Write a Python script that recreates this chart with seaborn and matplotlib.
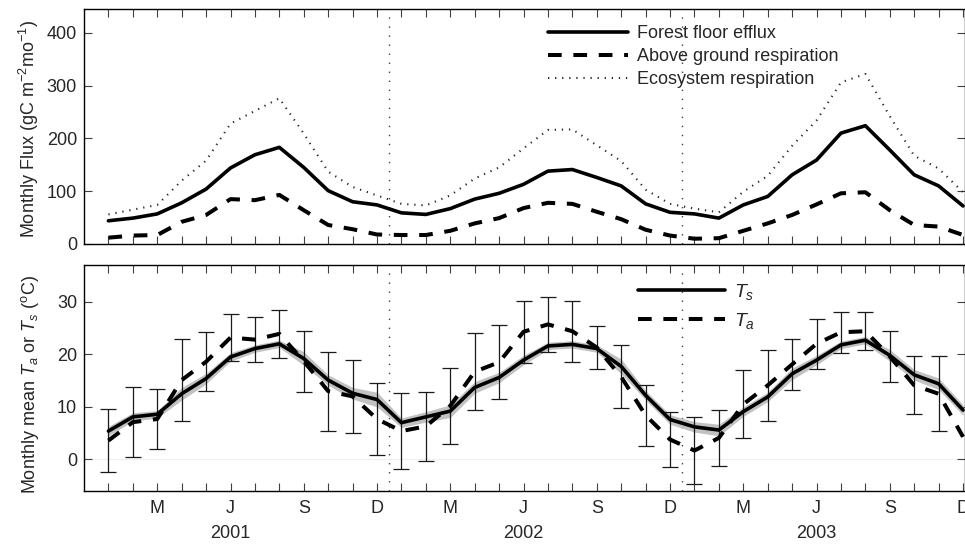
import numpy as np
import pandas as pd
import matplotlib
matplotlib.use("Agg")
import matplotlib.pyplot as plt
import seaborn as sns

# ---------------- data (monthly, Jan 2001 .. Dec 2003) ----------------
months = pd.period_range("2001-01", "2003-12", freq="M")

forest_floor = [44, 49, 57, 78, 104, 144, 169, 183, 145, 101, 80, 74,
                59, 56, 67, 85, 96, 113, 138, 141, 126, 110, 76, 60,
                57, 49, 74, 90, 131, 159, 210, 224, 178, 131, 110, 72]
above_ground = [12, 16, 17, 42, 55, 85, 83, 93, 64, 36, 28, 18,
                17, 17, 25, 39, 49, 68, 78, 76, 61, 47, 27, 16,
                10, 11, 25, 39, 55, 75, 96, 98, 64, 36, 33, 17]
ecosystem = [56, 65, 74, 120, 158, 228, 252, 276, 209, 137, 108, 92,
             76, 73, 92, 124, 145, 181, 216, 217, 187, 157, 103, 76,
             67, 60, 99, 129, 186, 234, 306, 322, 242, 167, 143, 98]

Ts = [5.4, 8.1, 8.6, 12.5, 15.4, 19.5, 21.1, 22.0, 19.2, 15.1, 12.6, 11.4,
      7.0, 8.1, 9.2, 13.7, 15.6, 18.9, 21.6, 21.9, 21.1, 17.7, 12.2, 7.6,
      6.2, 5.6, 9.1, 11.9, 16.3, 18.9, 21.8, 22.7, 19.8, 16.1, 14.4, 9.4]
Ts_band = [0.9, 0.8, 0.7, 1.2, 1.0, 0.8, 0.7, 0.7, 1.3, 1.0, 1.1, 1.4,
           0.9, 1.0, 1.2, 1.1, 1.0, 0.9, 0.7, 0.7, 0.7, 1.4, 0.9, 0.9,
           1.0, 1.1, 0.9, 0.9, 1.1, 0.9, 0.7, 0.7, 1.1, 1.0, 1.1, 1.0]
Ta = [3.6, 7.1, 7.7, 15.1, 18.6, 23.2, 22.8, 23.9, 18.7, 13.0, 12.0, 7.7,
      5.4, 6.3, 10.2, 16.7, 18.5, 24.3, 25.7, 24.4, 21.3, 15.7, 8.4, 3.8,
      1.7, 4.1, 10.5, 14.1, 18.1, 22.0, 24.2, 24.4, 19.6, 14.1, 12.5, 4.3]
Ta_sd = [6.0, 6.7, 5.8, 7.8, 5.6, 4.5, 4.3, 4.6, 5.8, 7.5, 7.0, 6.8,
         7.3, 6.6, 7.2, 7.3, 7.0, 5.9, 5.2, 5.8, 4.1, 6.0, 5.8, 5.2,
         6.4, 5.4, 6.5, 6.7, 4.9, 4.8, 3.9, 3.6, 4.8, 5.5, 7.1, np.nan]

years = ["2001", "2002", "2003"]
flux_labels = ["Forest floor efflux", "Above ground respiration", "Ecosystem respiration"]
temp_labels = [r"$\mathit{T_s}$", r"$\mathit{T_a}$"]

# ---------------- style ----------------
sns.set_style("ticks")
plt.rcParams["font.family"] = ["Liberation Sans", "DejaVu Sans"]
plt.rcParams["mathtext.fontset"] = "custom"
plt.rcParams["mathtext.rm"] = "Liberation Sans"
plt.rcParams["mathtext.it"] = "Liberation Sans:italic"
plt.rcParams["mathtext.default"] = "regular"
FS = 13
plt.rcParams["font.size"] = FS

idx = np.arange(len(months))
df = pd.DataFrame({
    "m": idx, "ff": forest_floor, "ag": above_ground, "eco": ecosystem,
    "Ts": Ts, "band": Ts_band, "Ta": Ta, "Ta_sd": Ta_sd,
})

fig = plt.figure(figsize=(9.65, 5.45), dpi=100)
W, H = 965.0, 545.0
axL, axR = 84.0, 965.5
ax1 = fig.add_axes([axL / W, (H - 244) / H, (axR - axL) / W, (244 - 9) / H])
ax2 = fig.add_axes([axL / W, (H - 491) / H, (axR - axL) / W, (491 - 265) / H])

SOLID_LW = 2.6
DASH_LW = 2.9
DASH = (0, (3.4, 2.9))
DOT = (0, (0.6, 2.8))

# ---------------- top panel ----------------
l1 = sns.lineplot(data=df, x="m", y="ff", ax=ax1, color="k", lw=SOLID_LW,
                  label=flux_labels[0], errorbar=None).lines[-1]
l2 = sns.lineplot(data=df, x="m", y="ag", ax=ax1, color="k", lw=DASH_LW,
                  linestyle=DASH, label=flux_labels[1], errorbar=None).lines[-1]
l3 = sns.lineplot(data=df, x="m", y="eco", ax=ax1, color="0.15", lw=1.5,
                  linestyle=DOT, label=flux_labels[2], errorbar=None).lines[-1]
ax1.set_ylim(0, 445)
ax1.set_yticks([0, 100, 200, 300, 400])
ax1.legend(handles=[l1, l2, l3], labels=flux_labels, loc="upper left",
           bbox_to_anchor=((548 - axL) / (axR - axL), (244 - 25) / 235.0),
           frameon=False, borderpad=0, borderaxespad=0, handlelength=4.45,
           handletextpad=0.5, labelspacing=0.33, fontsize=FS)

# ---------------- bottom panel ----------------
ax2.axhline(0, color="0.94", lw=0.8, zorder=0)
ax2.fill_between(df["m"], df["Ts"] - df["band"], df["Ts"] + df["band"],
                 color="0.76", lw=0, zorder=1)
ax2.errorbar(df["m"], df["Ta"], yerr=df["Ta_sd"], fmt="none", ecolor="0.1",
             elinewidth=0.9, capsize=5.8, capthick=0.9, zorder=2)
h1 = sns.lineplot(data=df, x="m", y="Ts", ax=ax2, color="k", lw=SOLID_LW,
                  label=temp_labels[0], errorbar=None, zorder=3).lines[-1]
h2 = sns.lineplot(data=df, x="m", y="Ta", ax=ax2, color="k", lw=DASH_LW,
                  linestyle=DASH, label=temp_labels[1], errorbar=None, zorder=4).lines[-1]
ax2.set_ylim(-6, 37)
ax2.set_yticks([0, 10, 20, 30])
ax2.legend(handles=[h1, h2], labels=temp_labels, loc="upper left",
           bbox_to_anchor=((638 - axL) / (axR - axL), (491 - 282) / 226.0),
           frameon=False, borderpad=0, borderaxespad=0, handlelength=4.45,
           handletextpad=0.5, labelspacing=0.45, fontsize=FS + 1)

# month tick labels
tick_lbls = [p.strftime("%b")[0] if p.month in (3, 6, 9, 12) else "" for p in months]
for ax in (ax1, ax2):
    ax.set_xlim(-1, 35.1)
    ax.set_xticks(idx)
    ax.tick_params(direction="in", length=6, width=0.8, color="0.25",
                   top=True, right=True, labelsize=FS, pad=5)
    ax.tick_params(axis="x", pad=6.5)
    for s in ax.spines.values():
        s.set_linewidth(1.0)
        s.set_color("k")
    for yr in range(1, len(years)):
        ax.axvline(12 * yr - 0.5, color="0.25", lw=1.0, linestyle=(0, (1, 5.5)), zorder=0)
    ax.set_xlabel("")
ax2.set_xticklabels(tick_lbls)
ax1.set_xticklabels([])

for k, yr in enumerate(years):
    ax2.text(12 * k + 5, -0.186, yr, transform=ax2.get_xaxis_transform(),
             ha="center", va="center", fontsize=FS)

ax1.set_ylabel(r"Monthly Flux (gC m$^{-2}$mo$^{-1}$)", fontsize=FS)
ax2.set_ylabel(r"Monthly mean $\mathit{T_a}$ or $\mathit{T_s}$ ($^{o}$C)", fontsize=FS)
ax1.yaxis.set_label_coords(-0.049, 0.49)
ax2.yaxis.set_label_coords(-0.049, 0.47)

fig.savefig("out.png", dpi=100)
